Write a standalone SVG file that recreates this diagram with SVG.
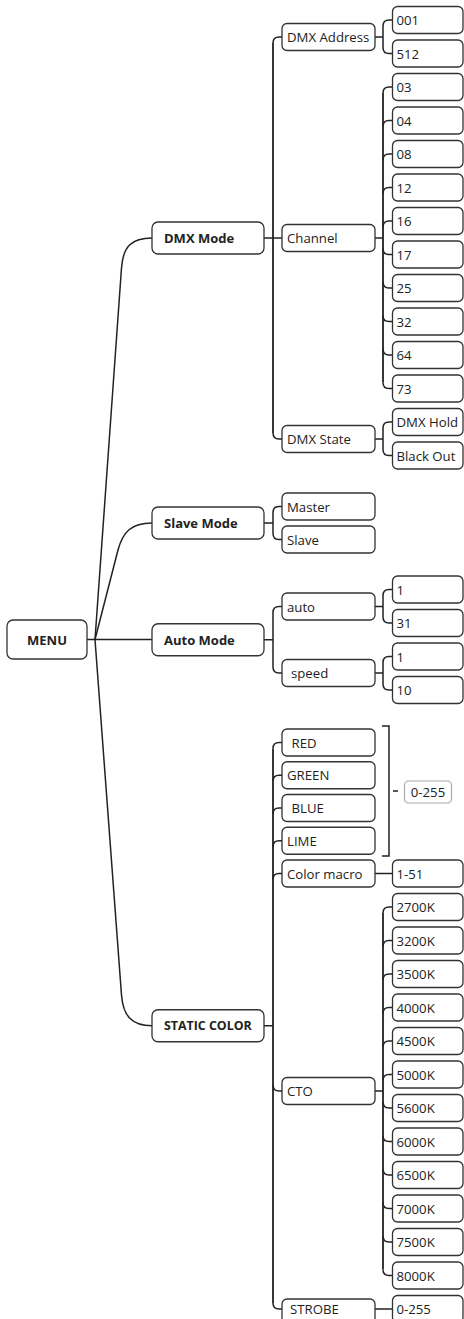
<svg xmlns="http://www.w3.org/2000/svg" width="464" height="1319" viewBox="0 0 464 1319">
<style>
text{font-family:"Open Sans","Noto Sans","Liberation Sans",sans-serif;font-size:13.2px;fill:#222;dominant-baseline:central}
.b{font-weight:bold;font-size:13px}
.box{fill:#fff;stroke:#333;stroke-width:1.3}
.c path{fill:none;stroke:#222;stroke-width:1.5}
.c .v{stroke-width:1.8}
.g{fill:none;stroke:#aaa;stroke-width:1.2}
</style>
<rect width="464" height="1319" fill="#fff"/>
<g class="c" id="connectors">
<path d="M87,639.5 H152"/>
<path d="M95,639.5 L121.5,268 C123,246 132,238 152,238"/>
<path d="M95,639.5 L118,550 C123,532 131,523 152,523"/>
<path d="M95,639.5 L121.5,995 C123,1016 132,1025.75 152,1025.75"/>
<!-- DMX Mode -->
<path d="M264,238 H282"/>
<path class="v" d="M273,43 V433"/>
<path d="M273,43 Q273,37 279,37 H282"/>
<path d="M273,433 Q273,439 279,439 H282"/>
<!-- DMX Address -->
<path d="M375,37 H383 M383,26 V47.5 M383,26 Q383,20 389,20 H392.5 M383,47.5 Q383,53.5 389,53.5 H392.5"/>
<!-- Channel -->
<path d="M375,238 H383"/>
<path class="v" d="M383,93 V382.5"/>
<path d="M383,93 Q383,87 389,87 H392.5 M383,126.5 Q383,120.5 389,120.5 H392.5 M383,160 Q383,154 389,154 H392.5 M383,193.5 Q383,187.5 389,187.5 H392.5 M383,227 Q383,221 389,221 H392.5"/>
<path d="M383,248.5 Q383,254.5 389,254.5 H392.5 M383,282 Q383,288 389,288 H392.5 M383,315.5 Q383,321.5 389,321.5 H392.5 M383,349 Q383,355 389,355 H392.5 M383,382.5 Q383,388.5 389,388.5 H392.5"/>
<!-- DMX State -->
<path d="M375,439 H383 M383,428 V449.5 M383,428 Q383,422 389,422 H392.5 M383,449.5 Q383,455.5 389,455.5 H392.5"/>
<!-- Slave Mode -->
<path d="M264,523 H273 M273,512.5 V533.5 M273,512.5 Q273,506.5 279,506.5 H282 M273,533.5 Q273,539.5 279,539.5 H282"/>
<!-- Auto Mode -->
<path d="M264,639.75 H273 M273,612.5 V667 M273,612.5 Q273,606.5 279,606.5 H282 M273,667 Q273,673 279,673 H282"/>
<path d="M375,606.5 H383 M383,595.5 V617 M383,595.5 Q383,589.5 389,589.5 H392.5 M383,617 Q383,623 389,623 H392.5"/>
<path d="M375,673 H383 M383,662.5 V684 M383,662.5 Q383,656.5 389,656.5 H392.5 M383,684 Q383,690 389,690 H392.5"/>
<!-- STATIC COLOR -->
<path d="M264,1025.75 H273"/>
<path class="v" d="M273,748.5 V1303"/>
<path d="M273,748.5 Q273,742.5 279,742.5 H282 M273,781.25 Q273,775.25 279,775.25 H282 M273,814 Q273,808 279,808 H282 M273,846.75 Q273,840.75 279,840.75 H282 M273,879.5 Q273,873.5 279,873.5 H282"/>
<path d="M273,1085 Q273,1091 279,1091 H282 M273,1303 Q273,1309 279,1309 H282"/>
<path d="M375,873.5 H392.5"/>
<path d="M375,1309 H392.5"/>
<!-- CTO -->
<path d="M375,1091 H383"/>
<path class="v" d="M383,913 V1269.5"/>
<path d="M383,913 Q383,907 389,907 H392.5 M383,946.5 Q383,940.5 389,940.5 H392.5 M383,980 Q383,974 389,974 H392.5 M383,1013.5 Q383,1007.5 389,1007.5 H392.5 M383,1047 Q383,1041 389,1041 H392.5 M383,1080.5 Q383,1074.5 389,1074.5 H392.5"/>
<path d="M383,1102 Q383,1108 389,1108 H392.5 M383,1135.5 Q383,1141.5 389,1141.5 H392.5 M383,1169 Q383,1175 389,1175 H392.5 M383,1202.5 Q383,1208.5 389,1208.5 H392.5 M383,1236 Q383,1242 389,1242 H392.5 M383,1269.5 Q383,1275.5 389,1275.5 H392.5"/>
<!-- gray bracket -->
<path class="g" d="M382,726 H389 V856 H382 M393,791 H398"/>
</g>

<g id="menu"><rect class="box" x="7" y="620" width="80" height="39" rx="6"/><text class="b" x="47" y="639.5" text-anchor="middle">MENU</text></g>

<g id="dmx-mode"><rect class="box" x="152" y="222" width="112" height="32" rx="6"/><text class="b" x="164" y="238">DMX Mode</text></g>
<g id="slave-mode"><rect class="box" x="152" y="507" width="112" height="32" rx="6"/><text class="b" x="164" y="523">Slave Mode</text></g>
<g id="auto-mode"><rect class="box" x="152" y="623.75" width="112" height="32" rx="6"/><text class="b" x="164" y="639.75">Auto Mode</text></g>
<g id="static-color"><rect class="box" x="152" y="1009.75" width="112" height="32" rx="6"/><text class="b" x="164" y="1025.75" style="font-size:12.4px">STATIC COLOR</text></g>

<g id="dmx-address"><rect class="box" x="282" y="23.5" width="93" height="27" rx="5"/><text x="287" y="37">DMX Address</text></g>
<g id="channel"><rect class="box" x="282" y="224.5" width="93" height="27" rx="5"/><text x="287" y="238">Channel</text></g>
<g id="dmx-state"><rect class="box" x="282" y="425.5" width="93" height="27" rx="5"/><text x="287" y="439">DMX State</text></g>
<g id="master"><rect class="box" x="282" y="493" width="93" height="27" rx="5"/><text x="287" y="506.5">Master</text></g>
<g id="slave"><rect class="box" x="282" y="526" width="93" height="27" rx="5"/><text x="287" y="539.5">Slave</text></g>
<g id="auto"><rect class="box" x="282" y="593" width="93" height="27" rx="5"/><text x="287" y="606.5">auto</text></g>
<g id="speed"><rect class="box" x="282" y="659.5" width="93" height="27" rx="5"/><text x="291" y="673">speed</text></g>
<g id="red"><rect class="box" x="282" y="729" width="93" height="27" rx="5"/><text x="291.5" y="742.5">RED</text></g>
<g id="green"><rect class="box" x="282" y="761.75" width="93" height="27" rx="5"/><text x="287" y="775.25">GREEN</text></g>
<g id="blue"><rect class="box" x="282" y="794.5" width="93" height="27" rx="5"/><text x="291.5" y="808">BLUE</text></g>
<g id="lime"><rect class="box" x="282" y="827.25" width="93" height="27" rx="5"/><text x="287" y="840.75">LIME</text></g>
<g id="color-macro"><rect class="box" x="282" y="860" width="93" height="27" rx="5"/><text x="287" y="873.5">Color macro</text></g>
<g id="cto"><rect class="box" x="282" y="1077.5" width="93" height="27" rx="5"/><text x="287" y="1091">CTO</text></g>
<g id="strobe"><rect class="box" x="282" y="1299" width="93" height="27" rx="5"/><text x="290" y="1309">STROBE</text></g>

<g id="range-0-255"><rect x="404.5" y="781" width="47" height="22" rx="4" fill="#fff" stroke="#aaa" stroke-width="1.2"/><text x="428" y="792" text-anchor="middle">0-255</text></g>

<g id="leaf-001"><rect class="box" x="392.5" y="6.5" width="70.5" height="27" rx="5"/><text x="396.5" y="20">001</text></g>
<g id="leaf-512"><rect class="box" x="392.5" y="40" width="70.5" height="27" rx="5"/><text x="396.5" y="53.5">512</text></g>
<g id="leaf-03"><rect class="box" x="392.5" y="73.5" width="70.5" height="27" rx="5"/><text x="396.5" y="87">03</text></g>
<g id="leaf-04"><rect class="box" x="392.5" y="107" width="70.5" height="27" rx="5"/><text x="396.5" y="120.5">04</text></g>
<g id="leaf-08"><rect class="box" x="392.5" y="140.5" width="70.5" height="27" rx="5"/><text x="396.5" y="154">08</text></g>
<g id="leaf-12"><rect class="box" x="392.5" y="174" width="70.5" height="27" rx="5"/><text x="396.5" y="187.5">12</text></g>
<g id="leaf-16"><rect class="box" x="392.5" y="207.5" width="70.5" height="27" rx="5"/><text x="396.5" y="221">16</text></g>
<g id="leaf-17"><rect class="box" x="392.5" y="241" width="70.5" height="27" rx="5"/><text x="396.5" y="254.5">17</text></g>
<g id="leaf-25"><rect class="box" x="392.5" y="274.5" width="70.5" height="27" rx="5"/><text x="396.5" y="288">25</text></g>
<g id="leaf-32"><rect class="box" x="392.5" y="308" width="70.5" height="27" rx="5"/><text x="396.5" y="321.5">32</text></g>
<g id="leaf-64"><rect class="box" x="392.5" y="341.5" width="70.5" height="27" rx="5"/><text x="396.5" y="355">64</text></g>
<g id="leaf-73"><rect class="box" x="392.5" y="375" width="70.5" height="27" rx="5"/><text x="396.5" y="388.5">73</text></g>
<g id="leaf-dmx-hold"><rect class="box" x="392.5" y="408.5" width="70.5" height="27" rx="5"/><text x="396.5" y="422">DMX Hold</text></g>
<g id="leaf-black-out"><rect class="box" x="392.5" y="442" width="70.5" height="27" rx="5"/><text x="396.5" y="455.5">Black Out</text></g>
<g id="leaf-auto-1"><rect class="box" x="392.5" y="576" width="70.5" height="27" rx="5"/><text x="396.5" y="589.5">1</text></g>
<g id="leaf-auto-31"><rect class="box" x="392.5" y="609.5" width="70.5" height="27" rx="5"/><text x="396.5" y="623">31</text></g>
<g id="leaf-speed-1"><rect class="box" x="392.5" y="643" width="70.5" height="27" rx="5"/><text x="396.5" y="656.5">1</text></g>
<g id="leaf-speed-10"><rect class="box" x="392.5" y="676.5" width="70.5" height="27" rx="5"/><text x="396.5" y="690">10</text></g>
<g id="leaf-1-51"><rect class="box" x="392.5" y="860" width="70.5" height="27" rx="5"/><text x="396.5" y="873.5">1-51</text></g>
<g id="leaf-2700k"><rect class="box" x="392.5" y="893.5" width="70.5" height="27" rx="5"/><text x="396.5" y="907">2700K</text></g>
<g id="leaf-3200k"><rect class="box" x="392.5" y="927" width="70.5" height="27" rx="5"/><text x="396.5" y="940.5">3200K</text></g>
<g id="leaf-3500k"><rect class="box" x="392.5" y="960.5" width="70.5" height="27" rx="5"/><text x="396.5" y="974">3500K</text></g>
<g id="leaf-4000k"><rect class="box" x="392.5" y="994" width="70.5" height="27" rx="5"/><text x="396.5" y="1007.5">4000K</text></g>
<g id="leaf-4500k"><rect class="box" x="392.5" y="1027.5" width="70.5" height="27" rx="5"/><text x="396.5" y="1041">4500K</text></g>
<g id="leaf-5000k"><rect class="box" x="392.5" y="1061" width="70.5" height="27" rx="5"/><text x="396.5" y="1074.5">5000K</text></g>
<g id="leaf-5600k"><rect class="box" x="392.5" y="1094.5" width="70.5" height="27" rx="5"/><text x="396.5" y="1108">5600K</text></g>
<g id="leaf-6000k"><rect class="box" x="392.5" y="1128" width="70.5" height="27" rx="5"/><text x="396.5" y="1141.5">6000K</text></g>
<g id="leaf-6500k"><rect class="box" x="392.5" y="1161.5" width="70.5" height="27" rx="5"/><text x="396.5" y="1175">6500K</text></g>
<g id="leaf-7000k"><rect class="box" x="392.5" y="1195" width="70.5" height="27" rx="5"/><text x="396.5" y="1208.5">7000K</text></g>
<g id="leaf-7500k"><rect class="box" x="392.5" y="1228.5" width="70.5" height="27" rx="5"/><text x="396.5" y="1242">7500K</text></g>
<g id="leaf-8000k"><rect class="box" x="392.5" y="1262" width="70.5" height="27" rx="5"/><text x="396.5" y="1275.5">8000K</text></g>
<g id="leaf-strobe-0-255"><rect class="box" x="392.5" y="1295.5" width="70.5" height="27" rx="5"/><text x="396.5" y="1309">0-255</text></g>
</svg>
